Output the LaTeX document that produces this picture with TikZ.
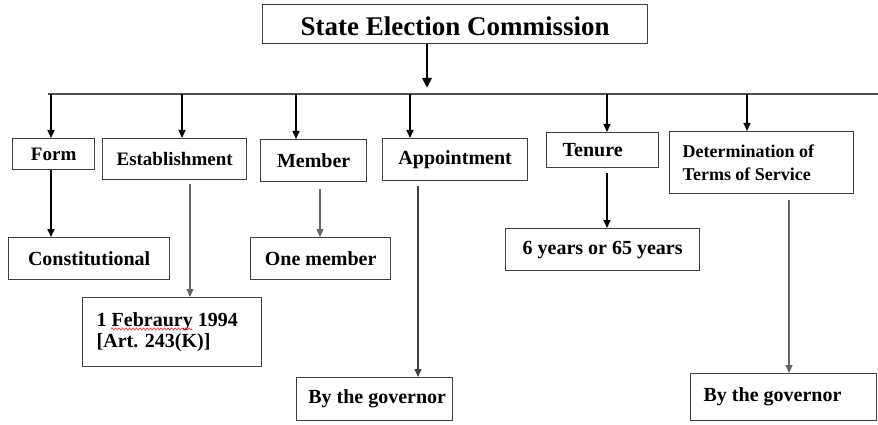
\documentclass[tikz,border=0pt]{standalone}
\usepackage{fontspec}
\setmainfont{Liberation Serif}
\usetikzlibrary{arrows.meta}
\usetikzlibrary{decorations.pathmorphing}

\tikzset{
	box/.style		= {rectangle, draw = black!75, line width = 1.3pt, anchor = north west, inner xsep = 13pt, inner ysep = 0pt, font = \fontsize{20}{24}\selectfont\bfseries},
	drop/.style		= {-{Triangle[length = 8pt, width = 7pt]}, line width = 1.4pt},
	thin drop/.style	= {drop, draw = black!60, line width = 1.1pt},
	spell wave/.style	= {draw = red!80, line width = 0.6pt, decorate, decoration = {snake, amplitude = 1.2pt, segment length = 3.5pt}},
}

\begin{document}
\begin{tikzpicture}[x = 1pt, y = -1pt]
\useasboundingbox (0, 0) rectangle (878, 425);

\path	(262, 4)	node(sec)		[box, minimum width = 385pt, minimum height = 39pt, text height = 22pt, text depth = 0pt, font = \fontsize{27}{30}\selectfont\bfseries]	{State Election Commission}
		(12, 138)	node(form)		[box, inner xsep = 0pt, minimum width = 82pt, minimum height = 31pt, font = \fontsize{19}{22}\selectfont\bfseries]	{Form\hspace{6pt}}
		(102, 138)	node(estab)		[box, minimum width = 144pt, minimum height = 41pt, font = \fontsize{19}{22}\selectfont\bfseries]	{Establishment}
		(260, 139)	node(member)	[box, minimum width = 106pt, minimum height = 42pt]		{Member}
		(382, 138)	node(appoint)	[box, minimum width = 145pt, minimum height = 42pt]		{Appointment}
		(546, 132)	node(tenure)	[box, text width = 80pt, inner xsep = 16pt, align = flush left, minimum height = 35pt]	{Tenure}
		(669, 131)	node(terms)		[box, text width = 158pt, align = flush left, minimum height = 62pt, font = \fontsize{18}{23}\selectfont\bfseries]	{Determination of\\Terms of Service}
		(8, 237)	node(const)		[box, minimum width = 161pt, minimum height = 42pt]		{Constitutional}
		(82, 297)	node(feb)		[box, text width = 151pt, inner xsep = 14pt, align = flush left, minimum height = 69pt, font = \fontsize{20}{21}\selectfont\bfseries]	{1 Febraury 1994\\{}[Art. 243(K)]}
		(250, 237)	node(onemem)	[box, minimum width = 140pt, minimum height = 42pt]		{One member}
		(296, 377)	node(gov_a)		[box, inner xsep = 0pt, minimum width = 156pt, minimum height = 43pt]	{\hspace{5pt}By the governor}
		(505, 228)	node(years)		[box, minimum width = 194pt, minimum height = 42pt]		{6 years or 65 years}
		(690, 373)	node(gov_b)		[box, text width = 160pt, align = flush left, minimum height = 47pt]	{By the governor};

% red wave under the misspelt word
\coordinate (wave_l) at ([xshift = 29pt, yshift = -32pt]feb.north west);
\coordinate (wave_r) at ([xshift = 110pt, yshift = -32pt]feb.north west);
\draw[spell wave] (wave_l) -- (wave_r);

% branch points on the bar
\coordinate (bar_l)	at (48, 94);
\coordinate (bar_r)	at (878, 94);
\coordinate (x_form)	at (51, 94);
\coordinate (x_estab)	at (182, 94);
\coordinate (x_member)	at (296, 94);
\coordinate (x_appoint)	at (410, 94);
\coordinate (x_tenure)	at (607, 94);
\coordinate (x_terms)	at (747, 94);
\coordinate (x_sec)		at (427, 88);

% second level
\coordinate (y_form)	at (51, 0);
\coordinate (y_estab)	at (190, 0);
\coordinate (y_member)	at (320, 0);
\coordinate (y_appoint)	at (418, 0);
\coordinate (y_tenure)	at (607, 0);
\coordinate (y_terms)	at (789, 0);

\draw[-{Triangle[length = 10pt, width = 9pt]}, line width = 2.6pt]	(x_sec |- sec.south)	--	(x_sec);
\draw[draw = black!70, line width = 1.8pt]	(bar_l)		--	(bar_r);

\draw[drop]	(x_form)		--	(x_form |- form.north);
\draw[drop]	(x_estab)		--	(x_estab |- estab.north);
\draw[drop]	(x_member)		--	(x_member |- member.north);
\draw[drop]	(x_appoint)		--	(x_appoint |- appoint.north);
\draw[drop]	(x_tenure)		--	(x_tenure |- tenure.north);
\draw[drop]	(x_terms)		--	(x_terms |- terms.north);

\draw[drop, line width = 1.8pt]				(y_form |- form.south)		--	(y_form |- const.north);
\draw[thin drop, shorten < = 4pt]			(y_estab |- estab.south)		--	(y_estab |- feb.north);
\draw[thin drop, shorten < = 7pt]			(y_member |- member.south)	--	(y_member |- onemem.north);
\draw[thin drop, draw = black!75, shorten < = 5pt]	(y_appoint |- appoint.south)	--	(y_appoint |- gov_a.north);
\draw[drop, line width = 1.8pt, shorten < = 5pt]	(y_tenure |- tenure.south)	--	(y_tenure |- years.north);
\draw[thin drop, shorten < = 6pt]			(y_terms |- terms.south)		--	(y_terms |- gov_b.north);
\end{tikzpicture}
\end{document}
